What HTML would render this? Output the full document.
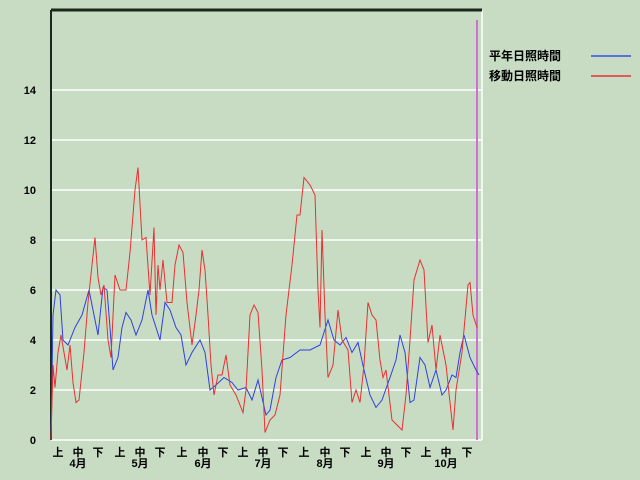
<!DOCTYPE html>
<html><head><meta charset="utf-8"><style>
body{margin:0;background:#c8dcc4;}
svg{display:block}
text{font-family:"Liberation Sans","Noto Sans CJK JP",sans-serif;font-size:11px;font-weight:bold;fill:#000}
</style></head><body>
<svg width="640" height="480" xmlns="http://www.w3.org/2000/svg">
<rect width="640" height="480" fill="#c8dcc4"/>
<g stroke="#ffffff" stroke-width="1.5">
<line x1="51" y1="90" x2="482" y2="90"/><line x1="51" y1="140" x2="482" y2="140"/>
<line x1="51" y1="190" x2="482" y2="190"/><line x1="51" y1="240" x2="482" y2="240"/>
<line x1="51" y1="290" x2="482" y2="290"/><line x1="51" y1="340" x2="482" y2="340"/>
<line x1="51" y1="390" x2="482" y2="390"/><line x1="51" y1="440" x2="482" y2="440"/>
<line x1="482" y1="10" x2="482" y2="440"/>
</g>
<line x1="51" y1="10" x2="482" y2="10" stroke="#1a2a1a" stroke-width="3"/>
<line x1="51" y1="10" x2="51" y2="440" stroke="#1a2a1a" stroke-width="2"/>
<line x1="477" y1="20" x2="477" y2="440" stroke="#d070d0" stroke-width="2"/>
<g text-anchor="end">
<text x="36" y="94">14</text><text x="36" y="144">12</text><text x="36" y="194">10</text>
<text x="36" y="244">8</text><text x="36" y="294">6</text><text x="36" y="344">4</text>
<text x="36" y="394">2</text><text x="36" y="444">0</text>
</g>
<g transform="translate(0,440) scale(1,-25)" fill="none">
<polyline vector-effect="non-scaling-stroke" stroke="#3040e0" stroke-width="1" points="51,0 53,5 56,6 60,5.8 63,4 68,3.8 75,4.5 82,5 89,6 94,5 98,4.2 103,6.1 107,6 110,4.5 113,2.8 118,3.3 122,4.5 126,5.1 131,4.8 136,4.2 142,4.8 148,6 152,5 156,4.5 160,4 165,5.5 170,5.2 176,4.5 181,4.2 186,3 192,3.5 200,4 205,3.5 210,2 216,2.2 224,2.5 232,2.3 238,2 246,2.1 252,1.6 258,2.4 266,1 270,1.2 276,2.5 282,3.2 290,3.3 300,3.6 310,3.6 320,3.8 328,4.8 334,4 340,3.8 346,4.1 352,3.5 358,3.9 364,2.8 370,1.8 376,1.3 382,1.6 390,2.5 396,3.2 400,4.2 405,3.5 410,1.5 414,1.6 420,3.3 425,3 430,2.1 436,2.8 442,1.8 446,2 452,2.6 456,2.5 460,3.5 464,4.2 470,3.3 476,2.8 479,2.6"/>
<polyline vector-effect="non-scaling-stroke" stroke="#e83030" stroke-width="1" points="51,0 53,3 55,2.1 58,3.5 61,4.2 64,3.5 67,2.8 70,3.8 73,2.3 76,1.5 79,1.6 84,3.5 88,5.5 92,7 95,8.1 98,6.5 101,5.8 104,6.2 108,4 111,3.3 115,6.6 120,6 126,6 130,7.5 135,10 138,10.9 142,8 146,8.1 150,5.8 154,8.5 156,5 158,7 160,6 163,7.2 167,5.5 172,5.5 175,7 179,7.8 183,7.5 187,5.5 192,3.8 196,5 199,6 202,7.6 205,6.8 208,5 211,3 214,1.8 218,2.6 222,2.6 226,3.4 230,2.2 236,1.8 243,1.1 246,2 250,5 254,5.4 258,5.1 262,2.8 265,0.3 270,0.8 275,1 280,1.8 286,5 292,7 297,9 300,9 304,10.5 310,10.2 315,9.8 318,6 320,4.5 322,8.4 325,5 328,2.5 333,3 338,5.2 342,4 348,3.6 352,1.5 356,2 360,1.5 364,3 368,5.5 372,5 376,4.8 380,3.2 383,2.5 386,2.8 392,0.8 402,0.4 406,1.8 410,4 414,6.4 420,7.2 424,6.8 428,3.9 432,4.6 436,2.8 440,4.2 446,3 450,1.5 453,0.4 456,2 462,3.5 468,6.2 470,6.3 473,5 477,4.5"/>
</g>
<g text-anchor="middle" font-size="10">
<text x="58" y="456">上</text><text x="78" y="456">中</text><text x="98" y="456">下</text>
<text x="120" y="456">上</text><text x="140" y="456">中</text><text x="160" y="456">下</text>
<text x="182" y="456">上</text><text x="203" y="456">中</text><text x="223" y="456">下</text>
<text x="243" y="456">上</text><text x="263" y="456">中</text><text x="283" y="456">下</text>
<text x="304" y="456">上</text><text x="325" y="456">中</text><text x="345" y="456">下</text>
<text x="366" y="456">上</text><text x="386" y="456">中</text><text x="406" y="456">下</text>
<text x="426" y="456">上</text><text x="446" y="456">中</text><text x="467" y="456">下</text>
<text x="78" y="467">4月</text><text x="140" y="467">5月</text><text x="203" y="467">6月</text>
<text x="263" y="467">7月</text><text x="325" y="467">8月</text><text x="386" y="467">9月</text>
<text x="446" y="467">10月</text>
</g>
<text x="489" y="60" style="font-size:12px">平年日照時間</text>
<text x="489" y="80" style="font-size:12px">移動日照時間</text>
<line x1="591" y1="56" x2="631" y2="56" stroke="#3050e0" stroke-width="1.5"/>
<line x1="591" y1="76" x2="631" y2="76" stroke="#e83030" stroke-width="1.5"/>
</svg>
</body></html>
